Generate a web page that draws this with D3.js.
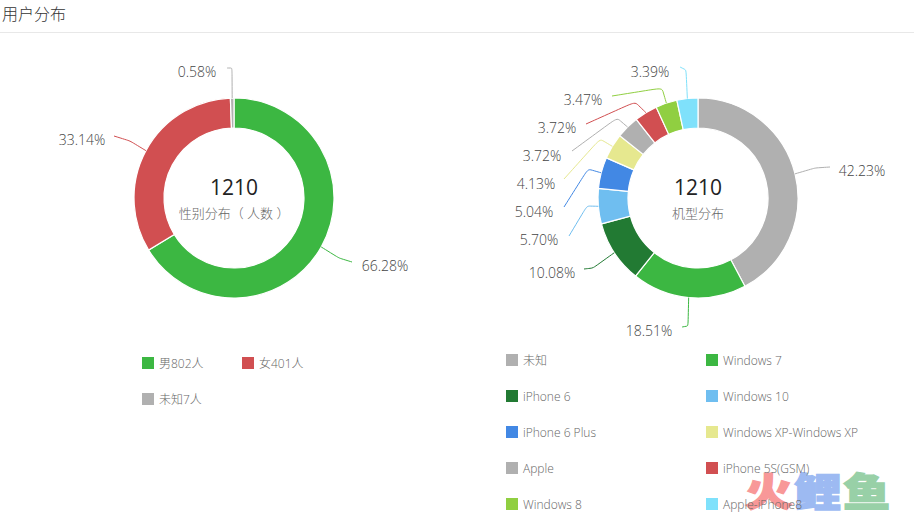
<!DOCTYPE html>
<html>
<head>
<meta charset="utf-8">
<script src="https://cdn.jsdelivr.net/npm/d3@7"></script>
<style>
  html, body { margin: 0; padding: 0; background: #fff; overflow: hidden; }
  svg { display: block; }
  text { font-family: "Open Sans", "Noto Sans CJK SC", sans-serif; font-weight: 300; }
</style>
</head>
<body>
<svg width="914" height="518"></svg>
<script>
var svg = d3.select("svg");

var green = "#3cb742", red = "#d14f51", gray = "#b0b0b0";

// knee, end: leader line points relative to chart centre; label: text centre
var charts = [
  {
    cx: 234, cy: 198, total: 1210, title: "性别分布（ 人数 ）",
    slices: [
      {name: "男", count: 802, pct: "66.28%", color: green, knee: [105, 60], end: [118, 64], label: [151, 68]},
      {name: "女", count: 401, pct: "33.14%", color: red, knee: [-104, -57], end: [-120, -62], label: [-152, -58]},
      {name: "未知", count: 7, pct: "0.58%", color: gray, knee: [-2, -130], end: [-7, -130], label: [-37, -126]}
    ]
  },
  {
    cx: 698, cy: 198, total: 1210, title: "机型分布",
    slices: [
      {name: "未知", count: 511, pct: "42.23%", color: gray, knee: [117, -30], end: [132, -31], label: [164, -27]},
      {name: "Windows 7", count: 224, pct: "18.51%", color: green, knee: [-10, 128], end: [-16, 129], label: [-49, 133]},
      {name: "iPhone 6", count: 122, pct: "10.08%", color: "#227a33", knee: [-105, 70], end: [-114, 71], label: [-146, 75]},
      {name: "Windows 10", count: 69, pct: "5.70%", color: "#6fbef0", knee: [-111, 8], end: [-129, 38], label: [-159, 42]},
      {name: "iPhone 6 Plus", count: 61, pct: "5.04%", color: "#4288e4", knee: [-110, -29], end: [-134, 9], label: [-164, 14]},
      {name: "Windows XP-Windows XP", count: 50, pct: "4.13%", color: "#e6e88f", knee: [-98, -59], end: [-134, -19], label: [-162, -14]},
      {name: "Apple", count: 45, pct: "3.72%", color: gray, knee: [-81, -80], end: [-126, -47], label: [-156, -42]},
      {name: "iPhone 5S(GSM)", count: 45, pct: "3.72%", color: red, knee: [-63, -96], end: [-112, -74], label: [-141, -70]},
      {name: "Windows 8", count: 42, pct: "3.47%", color: "#90cf41", knee: [-36, -110], end: [-86, -102], label: [-115, -98]},
      {name: "Apple-iPhone8", count: 41, pct: "3.39%", color: "#7fe1fb", knee: [-12, -128], end: [-18, -131], label: [-48, -126]}
    ]
  }
];

var pie = d3.pie()
    .sort(null)
    .value(function(d) { return d.count; });

var arc = d3.arc().innerRadius(70).outerRadius(100),
    rim = d3.arc().innerRadius(100).outerRadius(100);

var leader = d3.line().curve(d3.curveBasis);

// rounds the knee by adding a point either side of it
function leaderPoints(d) {
  var start = rim.centroid(d), knee = d.data.knee, end = d.data.end;
  return [start, d3.interpolate(start, knee)(0.75), knee, d3.interpolate(knee, end)(0.25), end];
}

// header
svg.append("text")
    .attr("x", 2)
    .attr("y", 20)
    .attr("font-size", 16)
    .attr("fill", "#333")
    .text("用户分布");

svg.append("line")
    .attr("x1", 0)
    .attr("x2", 914)
    .attr("y1", 32.5)
    .attr("y2", 32.5)
    .attr("stroke", "#e8e8e8");

var chart = svg.selectAll(".chart")
    .data(charts)
  .enter().append("g")
    .attr("class", "chart")
    .attr("transform", function(d) { return "translate(" + d.cx + "," + d.cy + ")"; });

var slice = chart.selectAll(".slice")
    .data(function(d) { return pie(d.slices); })
  .enter().append("g")
    .attr("class", "slice");

slice.append("path")
    .attr("d", arc)
    .attr("fill", function(d) { return d.data.color; })
    .attr("stroke", "#fff")
    .attr("stroke-width", 1.2);

slice.append("path")
    .attr("fill", "none")
    .attr("stroke", function(d) { return d.data.color; })
    .attr("d", function(d) { return leader(leaderPoints(d)); });

slice.append("text")
    .attr("x", function(d) { return d.data.label[0]; })
    .attr("y", function(d) { return d.data.label[1]; })
    .attr("dy", "0.35em")
    .attr("text-anchor", "middle")
    .attr("font-size", 14)
    .attr("fill", "#444")
    .text(function(d) { return d.data.pct; });

chart.append("text")
    .attr("y", -3)
    .attr("text-anchor", "middle")
    .attr("font-size", 21)
    .style("font-weight", 400)
    .attr("fill", "#222")
    .text(function(d) { return d.total; });

chart.append("text")
    .attr("y", 20)
    .attr("text-anchor", "middle")
    .attr("font-size", 13)
    .attr("fill", "#666")
    .text(function(d) { return d.title; });

// watermark, under the legend so its text stays readable
svg.selectAll(".mark")
    .data([
      {x: 745, text: "火", color: "#f77f7f"},
      {x: 794, text: "鲤", color: "#85aaf0"},
      {x: 843, text: "鱼", color: "#7fc592"}
    ])
  .enter().append("text")
    .attr("class", "mark")
    .attr("transform", function(d) { return "translate(" + d.x + ",506) scale(1.03,0.85)"; })
    .attr("font-size", 46)
    .style("font-family", '"Noto Sans CJK SC", sans-serif')
    .style("font-weight", 900)
    .attr("fill", function(d) { return d.color; })
    .attr("stroke", function(d) { return d.color; })
    .attr("stroke-width", 1.5)
    .attr("opacity", 0.8)
    .text(function(d) { return d.text; });

// legends
var genderLegend = [
  {x: 142, y: 357, slice: charts[0].slices[0]},
  {x: 242, y: 357, slice: charts[0].slices[1]},
  {x: 142, y: 393, slice: charts[0].slices[2]}
].map(function(d) {
  return {x: d.x, y: d.y, color: d.slice.color, text: d.slice.name + d.slice.count + "人"};
});

var deviceLegend = charts[1].slices.map(function(d, i) {
  return {x: i % 2 ? 706 : 506, y: 354 + 36 * Math.floor(i / 2), color: d.color, text: d.name};
});

var legend = svg.selectAll(".legend")
    .data(genderLegend.concat(deviceLegend))
  .enter().append("g")
    .attr("class", "legend")
    .attr("transform", function(d) { return "translate(" + d.x + "," + d.y + ")"; });

legend.append("rect")
    .attr("width", 12)
    .attr("height", 12)
    .attr("fill", function(d) { return d.color; });

legend.append("text")
    .attr("x", 17)
    .attr("y", 7)
    .attr("dy", "0.35em")
    .attr("font-size", 12)
    .attr("fill", "#666")
    .text(function(d) { return d.text; });
</script>
</body>
</html>
